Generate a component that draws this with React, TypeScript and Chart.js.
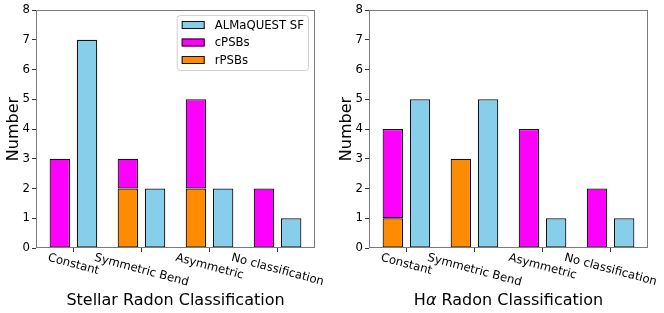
import React, { useEffect, useRef } from 'react';
import { Chart, registerables } from 'chart.js';
Chart.register(...registerables);

const categories = ['Constant', 'Symmetric Bend', 'Asymmetric', 'No classification'];
const stellarSF = [7, 2, 2, 1];
const stellarCPSB = [3, 1, 3, 2];
const stellarRPSB = [0, 2, 2, 0];
const haSF = [5, 5, 1, 1];
const haCPSB = [3, 0, 4, 2];
const haRPSB = [1, 3, 0, 0];
const yMin = 0;
const yMax = 8;
const seriesLabels = ['ALMaQUEST SF', 'cPSBs', 'rPSBs'];
const seriesColors = ['#87CEEB', '#FF00FF', '#FF8C00'];
const stellarTitle = [{ text: 'Stellar Radon Classification', italic: false }];
const haTitle = [
  { text: 'H', italic: false },
  { text: 'α', italic: true },
  { text: ' Radon Classification', italic: false },
];
const yTitle = 'Number';

const FONT = "'DejaVu Sans', sans-serif";
const OFFSET = 0.2;
const EDGE = '#111111';
const ANGLE = (15 * Math.PI) / 180;

type Part = { text: string; italic: boolean };

function decorPlugin(xTitle: Part[], showLegend: boolean) {
  return {
    id: 'decor',
    afterDraw(chart: any) {
      const ctx: CanvasRenderingContext2D = chart.ctx;
      const a = chart.chartArea;
      const xs = chart.scales.x;
      ctx.save();
      // frame
      ctx.strokeStyle = '#7a7a7a';
      ctx.lineWidth = 1;
      ctx.strokeRect(a.left + 0.5, a.top + 0.5, a.right - a.left - 1, a.bottom - a.top - 1);

      // x tick labels (rotated, centred)
      const fs = 11.7;
      ctx.font = `${fs}px ${FONT}`;
      ctx.fillStyle = '#000';
      ctx.textAlign = 'center';
      ctx.textBaseline = 'middle';
      categories.forEach((c, i) => {
        const tx = xs.getPixelForValue(i);
        const w = ctx.measureText(c).width;
        const H = w * Math.sin(ANGLE) + 1.164 * fs * Math.cos(ANGLE);
        const cy = a.bottom + 3 + H / 2;
        ctx.save();
        ctx.translate(tx, cy);
        ctx.rotate(ANGLE);
        ctx.fillText(c, 0, 0);
        ctx.restore();
      });

      // x title
      const tfs = 16;
      ctx.textAlign = 'left';
      ctx.textBaseline = 'alphabetic';
      let total = 0;
      const widths = xTitle.map((p) => {
        ctx.font = `${p.italic ? 'italic ' : ''}${tfs}px ${FONT}`;
        const w = ctx.measureText(p.text).width;
        total += w;
        return w;
      });
      let x = (a.left + a.right) / 2 - total / 2;
      xTitle.forEach((p, i) => {
        ctx.font = `${p.italic ? 'italic ' : ''}${tfs}px ${FONT}`;
        ctx.fillText(p.text, x, a.bottom + 57);
        x += widths[i];
      });

      // y title
      ctx.save();
      ctx.font = `${tfs}px ${FONT}`;
      ctx.translate(a.left - 18.5, (a.top + a.bottom) / 2);
      ctx.rotate(-Math.PI / 2);
      ctx.textAlign = 'center';
      ctx.fillText(yTitle, 0, 0);
      ctx.restore();

      // legend
      if (showLegend) {
        const lfs = 11.7;
        ctx.font = `${lfs}px ${FONT}`;
        const maxW = Math.max(...seriesLabels.map((l) => ctx.measureText(l).width));
        const bw = 5 + 23 + 10 + maxW + 4;
        const bh = 55;
        const bx = a.right - 7 - bw;
        const by = a.top + 5;
        ctx.beginPath();
        (ctx as any).roundRect(bx + 0.5, by + 0.5, bw, bh, 3);
        ctx.fillStyle = 'rgba(255,255,255,0.8)';
        ctx.fill();
        ctx.strokeStyle = '#d0d0d0';
        ctx.stroke();
        seriesLabels.forEach((l, i) => {
          const cy = by + 10 + i * 17.5;
          ctx.fillStyle = seriesColors[i];
          ctx.fillRect(bx + 5, cy - 4, 23, 8);
          ctx.strokeStyle = EDGE;
          ctx.lineWidth = 1;
          ctx.strokeRect(bx + 5.5, cy - 3.5, 22, 7);
          ctx.fillStyle = '#000';
          ctx.textAlign = 'left';
          ctx.textBaseline = 'middle';
          ctx.fillText(l, bx + 38, cy + 0.5);
        });
      }
      ctx.restore();
    },
  };
}

function makeConfig(sf: number[], cpsb: number[], rpsb: number[], xTitle: Part[], showLegend: boolean, yWidth: number, padRight: number): any {
  const pts = (arr: number[], off: number) => arr.map((v, i) => ({ x: i + off, y: v === 0 ? null : v }));
  const common = {
    borderColor: EDGE,
    borderWidth: 1.2,
    borderSkipped: false,
    grouped: false,
    categoryPercentage: 1,
    barPercentage: 0.75,
  };
  return {
    type: 'bar',
    data: {
      datasets: [
        { label: seriesLabels[2], data: pts(rpsb, -OFFSET), backgroundColor: seriesColors[2], stack: 'psb', ...common },
        { label: seriesLabels[1], data: pts(cpsb, -OFFSET), backgroundColor: seriesColors[1], stack: 'psb', ...common },
        { label: seriesLabels[0], data: pts(sf, OFFSET), backgroundColor: seriesColors[0], stack: 'sf', ...common },
      ],
    },
    options: {
      animation: false,
      responsive: false,
      devicePixelRatio: 1,
      layout: { padding: { top: 10, right: padRight, left: 0, bottom: 0 } },
      plugins: { legend: { display: false }, tooltip: { enabled: false } },
      scales: {
        x: {
          type: 'linear',
          min: -0.55,
          max: 3.55,
          offset: false,
          stacked: false,
          ticks: { stepSize: 1, includeBounds: false, autoSkip: false, callback: () => '' },
          grid: { offset: false, drawOnChartArea: false, drawTicks: true, tickLength: 4, color: '#333' },
          border: { display: false },
          afterFit: (s: any) => {
            s.height = 65;
          },
        },
        y: {
          min: yMin,
          max: yMax,
          stacked: true,
          ticks: { stepSize: 1, padding: 2, color: '#000', font: { family: FONT, size: 11.7 } },
          grid: { drawOnChartArea: false, drawTicks: true, tickLength: 4, color: '#333' },
          border: { display: false },
          afterFit: (s: any) => {
            s.width = yWidth;
          },
        },
      },
    },
    plugins: [decorPlugin(xTitle, showLegend)],
  };
}

export default function App() {
  const leftRef = useRef<HTMLCanvasElement>(null);
  const rightRef = useRef<HTMLCanvasElement>(null);
  useEffect(() => {
    const c1 = new Chart(leftRef.current!, makeConfig(stellarSF, stellarCPSB, stellarRPSB, stellarTitle, true, 36, 17));
    const c2 = new Chart(rightRef.current!, makeConfig(haSF, haCPSB, haRPSB, haTitle, false, 37, 16));
    return () => {
      c1.destroy();
      c2.destroy();
    };
  }, []);
  return (
    <div style={{ position: 'fixed', left: 0, top: 0, width: 664, height: 313, background: '#fff', display: 'flex' }}>
      <canvas ref={leftRef} width={332} height={313} style={{ width: 332, height: 313, display: 'block' }} />
      <canvas ref={rightRef} width={332} height={313} style={{ width: 332, height: 313, display: 'block' }} />
    </div>
  );
}
